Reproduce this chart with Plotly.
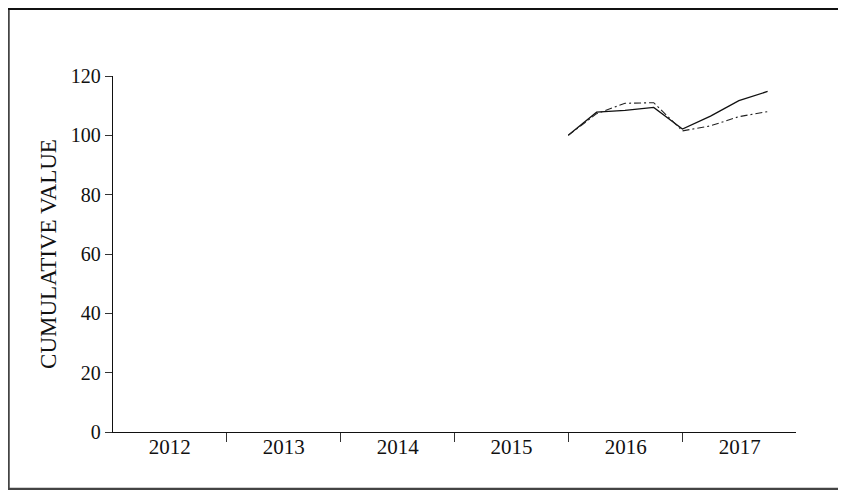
import plotly.graph_objects as go

dates = ["2015-12-31", "2016-03-31", "2016-06-30", "2016-09-30",
         "2016-12-31", "2017-03-31", "2017-06-30", "2017-09-30"]
series_solid = [100.0, 107.8, 108.4, 109.4, 102.1, 106.5, 111.7, 114.8]
series_dashdot = [100.0, 107.3, 110.8, 111.0, 101.5, 103.2, 106.3, 108.0]
y_ticks = [0, 20, 40, 60, 80, 100, 120]

FONT = "Liberation Serif, Times New Roman, serif"
X_RANGE = ["2012-01-02", "2017-12-30"]

fig = go.Figure()
fig.add_trace(go.Scatter(x=dates, y=series_solid, mode="lines",
                         line=dict(color="#111111", width=1.3), showlegend=False))
fig.add_trace(go.Scatter(x=dates, y=series_dashdot, mode="lines",
                         line=dict(color="#222222", width=1.1, dash="7px,3px,2px,3px"),
                         showlegend=False))
# invisible trace to carry the year-label axis
fig.add_trace(go.Scatter(x=dates, y=[None] * len(dates), xaxis="x2",
                         mode="lines", showlegend=False, hoverinfo="skip"))

fig.update_layout(
    width=846, height=490,
    margin=dict(l=105, r=58, t=68, b=66),
    paper_bgcolor="white", plot_bgcolor="white",
    font=dict(family=FONT, color="#111111"),
    xaxis=dict(
        type="date", range=X_RANGE,
        tick0="2012-01-01", dtick="M12",
        showticklabels=False,
        ticks="outside", ticklen=9, tickwidth=1, tickcolor="#333333",
        showline=True, linecolor="#111111", linewidth=1.3,
        showgrid=False, zeroline=False,
    ),
    xaxis2=dict(
        type="date", range=X_RANGE, overlaying="x", side="bottom",
        tick0="2012-01-01", dtick="M12", tickformat="%Y",
        ticklabelmode="period", ticks="",
        showline=False, showgrid=False, zeroline=False,
        tickfont=dict(size=21, family=FONT, color="#111111"),
    ),
    yaxis=dict(
        range=[0, 120], tickvals=y_ticks,
        ticks="outside", ticklen=7, tickwidth=1, tickcolor="#333333",
        showline=True, linecolor="#111111", linewidth=1.3,
        showgrid=False, zeroline=False,
        tickfont=dict(size=20, family=FONT, color="#111111"),
        title=dict(text="CUMULATIVE VALUE", standoff=7,
                   font=dict(size=23, family=FONT, color="#111111")),
    ),
)

# outer frame (left, top, bottom edges), figure-pixel positions converted to paper
L, T, W, H = 105.0, 68.0, 683.0, 356.0
def px(xf):
    return (xf - L) / W
def py(yf):
    return (T + H - yf) / H

fig.add_shape(type="line", xref="paper", yref="paper", x0=px(0.5), x1=px(0.5),
              y0=py(481), y1=py(1), line=dict(color="#444444", width=2.5))
fig.add_shape(type="line", xref="paper", yref="paper", x0=px(0), x1=px(860),
              y0=py(1), y1=py(1), line=dict(color="#111111", width=2))
fig.add_shape(type="line", xref="paper", yref="paper", x0=px(0), x1=px(860),
              y0=py(481), y1=py(481), line=dict(color="#444444", width=2.5))

fig.write_html("out.html")
